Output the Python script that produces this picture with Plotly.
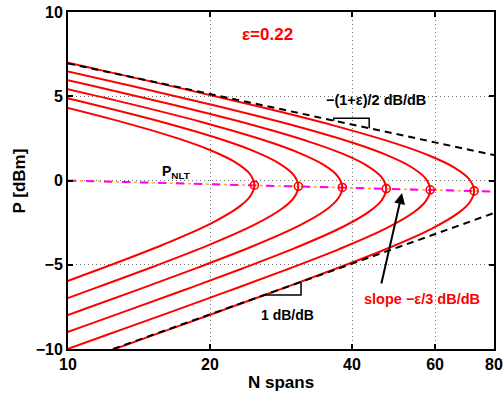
import numpy as np
import plotly.graph_objects as go

# ---- data ----
# constant-SNR contours (N spans, P dBm), innermost first
c1_n = [9.268, 12.230, 15.932, 20.122, 23.003, 24.337, 24.840, 24.275, 22.603, 20.050, 17.026, 12.483, 8.683]
c1_p = [-6.292, -5.047, -3.797, -2.539, -1.582, -0.933, -0.276, 0.401, 1.091, 1.796, 2.514, 3.613, 4.729]

c2_n = [8.660, 11.483, 15.154, 19.741, 24.934, 28.503, 30.156, 30.779, 30.080, 28.007, 24.845, 21.098, 15.468, 10.759, 7.253]
c2_p = [-7.604, -6.361, -5.116, -3.866, -2.608, -1.651, -1.002, -0.345, 0.332, 1.022, 1.727, 2.445, 3.544, 4.660, 5.785]

c3_n = [8.075, 10.734, 14.233, 18.783, 24.468, 30.904, 35.328, 37.377, 38.149, 37.282, 34.713, 30.794, 26.149, 19.172, 13.335, 8.990]
c3_p = [-8.915, -7.672, -6.429, -5.184, -3.934, -2.676, -1.719, -1.070, -0.413, 0.264, 0.954, 1.659, 2.377, 3.476, 4.592, 5.717]

c4_n = [7.522, 10.007, 13.302, 17.639, 23.277, 30.322, 38.298, 43.780, 46.319, 47.276, 46.202, 43.018, 38.161, 32.405, 23.759, 16.525, 11.140, 7.384]
c4_p = [-10.225, -8.983, -7.740, -6.497, -5.252, -4.002, -2.744, -1.787, -1.138, -0.481, 0.196, 0.886, 1.591, 2.309, 3.408, 4.524, 5.649, 6.780]

c5_n = [9.322, 12.402, 16.485, 21.859, 28.847, 37.577, 47.462, 54.256, 57.403, 58.589, 57.258, 53.312, 47.292, 40.159, 29.444, 20.479, 13.806, 9.150]
c5_p = [-10.294, -9.052, -7.809, -6.566, -5.321, -4.071, -2.813, -1.856, -1.207, -0.550, 0.127, 0.817, 1.522, 2.240, 3.339, 4.455, 5.580, 6.711]

c6_n = [8.677, 11.553, 15.37, 20.43, 27.09, 35.75, 46.57, 58.82, 67.24, 71.14, 72.61, 70.96, 66.07, 58.61, 49.77, 36.49, 25.38, 17.11, 11.34, 7.455]
c6_p = [-11.605, -10.362, -9.120, -7.877, -6.634, -5.389, -4.139, -2.881, -1.924, -1.275, -0.618, 0.059, 0.749, 1.454, 2.172, 3.271, 4.387, 5.512, 6.643, 7.777]

# apex points (P_NLT) of each contour
apex_n = [24.84, 30.78, 38.15, 47.28, 58.59, 72.61]
apex_p = [-0.276, -0.345, -0.413, -0.481, -0.550, -0.618]

# asymptotes
upper_n = [10, 80]
upper_p = [6.95, 1.51]
lower_n = [12.46, 80]
lower_p = [-10.0, -1.93]
nlt_n = [10, 80]
nlt_p = [0.0, -0.66]

# slope triangles
tri_up_n = [36.6, 36.6, 43.5, 43.5]
tri_up_p = [3.55, 3.70, 3.70, 3.10]
tri_lo_n = [26.16, 31.19, 31.19]
tri_lo_p = [-6.80, -6.80, -6.02]

x_ticks = [10, 20, 40, 60, 80]
y_ticks = [-10, -5, 0, 5, 10]

RED = "#ff0000"
FONT = "Liberation Sans"

fig = go.Figure()

# orange dash-dot underneath, magenta dashed on top
fig.add_trace(go.Scatter(x=nlt_n, y=nlt_p, mode="lines",
                         line=dict(color="#ffa64d", width=1.6, dash="dashdot")))
fig.add_trace(go.Scatter(x=nlt_n, y=nlt_p, mode="lines",
                         line=dict(color="#ff00ff", width=2, dash="8px,10px")))

for cn, cp in [(c1_n, c1_p), (c2_n, c2_p), (c3_n, c3_p),
               (c4_n, c4_p), (c5_n, c5_p), (c6_n, c6_p)]:
    fig.add_trace(go.Scatter(x=cn, y=cp, mode="lines",
                             line=dict(color=RED, width=2, shape="spline", smoothing=1.0)))

fig.add_trace(go.Scatter(x=upper_n, y=upper_p, mode="lines",
                         line=dict(color="black", width=2, dash="7px,5px")))
fig.add_trace(go.Scatter(x=lower_n, y=lower_p, mode="lines",
                         line=dict(color="black", width=2, dash="7px,5px")))

fig.add_trace(go.Scatter(x=apex_n, y=apex_p, mode="markers",
                         marker=dict(symbol="circle-open", size=8, color=RED,
                                     line=dict(width=1.6, color=RED))))

fig.add_trace(go.Scatter(x=tri_up_n, y=tri_up_p, mode="lines",
                         line=dict(color="black", width=1.5)))
fig.add_trace(go.Scatter(x=tri_lo_n, y=tri_lo_p, mode="lines",
                         line=dict(color="black", width=1.5)))

def ann(n, p, text, color="black", size=14):
    fig.add_annotation(x=np.log10(n), y=p, text=text, showarrow=False,
                       xanchor="center", yanchor="middle",
                       font=dict(family=FONT, size=size, color=color, weight="bold"))

ann(26.42, 8.64, "ε=0.22", color=RED, size=17)
ann(44.98, 4.78, "−(1+ε)/2 dB/dB", size=14.5)
ann(16.9, 0.50, "P<sub>NLT</sub>", size=14)
ann(29.13, -7.98, "1 dB/dB", size=14)
ann(56.3, -7.03, "slope −ε/3 dB/dB", color=RED, size=14.5)

# arrow pointing at the P_NLT line
fig.add_annotation(x=np.log10(51.07), y=-0.74, ax=-21, ay=92, axref="pixel", ayref="pixel",
                   text="", showarrow=True, arrowhead=2, arrowsize=1.1,
                   arrowwidth=2, arrowcolor="black")

# axis titles
title_font = dict(family=FONT, size=17, color="black", weight="bold")
fig.add_annotation(xref="paper", yref="paper", x=0.5, y=-0.098, text="N spans",
                   showarrow=False, xanchor="center", yanchor="middle", font=title_font)
fig.add_annotation(xref="paper", yref="paper", x=-0.1127, y=0.5, text="P [dBm]",
                   showarrow=False, textangle=-90, xanchor="center", yanchor="middle",
                   font=title_font)

axis_common = dict(showline=True, linecolor="black", linewidth=2, mirror="ticks",
                   ticks="inside", ticklen=5, tickwidth=1.5, tickcolor="black",
                   showgrid=True, gridcolor="#707070", gridwidth=1, griddash="1px,3px",
                   zeroline=False, automargin=False,
                   tickfont=dict(family=FONT, size=16, color="black", weight="bold"))

fig.update_xaxes(type="log", range=[1, np.log10(80)], tickvals=x_ticks,
                 ticktext=[str(v) for v in x_ticks],
                 minor=dict(showgrid=False, ticks=""), **axis_common)
fig.update_yaxes(range=[-10, 10], tickvals=y_ticks, **axis_common)

fig.update_layout(width=504, height=396, showlegend=False,
                  margin=dict(l=68, r=10, t=12, b=47),
                  paper_bgcolor="white", plot_bgcolor="white",
                  font=dict(family=FONT))

fig.write_html("out.html", config={"displayModeBar": False},
               post_script="document.body.style.margin='0';document.body.style.padding='0';")
